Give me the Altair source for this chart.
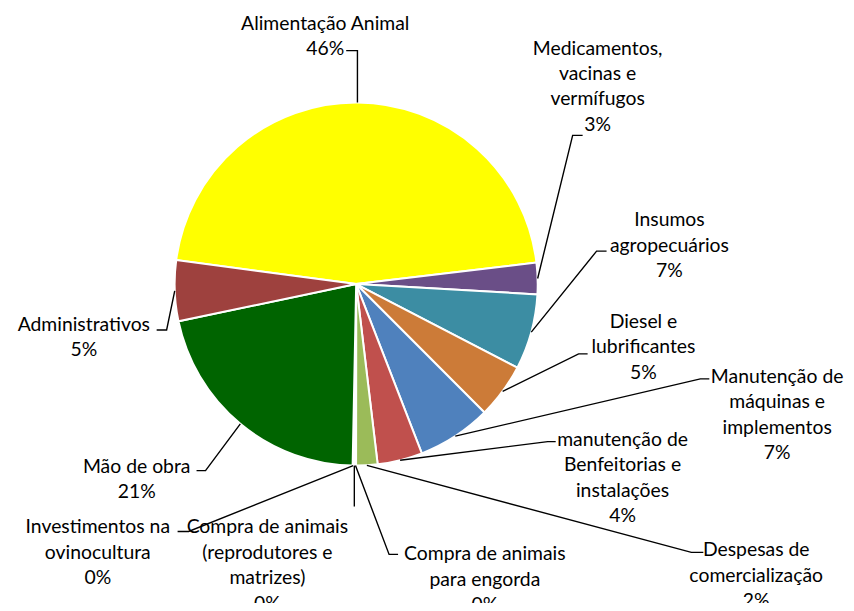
import math
import altair as alt
import pandas as pd

# ---- data ----
categories = [
    "Alimentação Animal",
    "Medicamentos, vacinas e vermífugos",
    "Insumos agropecuários",
    "Diesel e lubrificantes",
    "Manutenção de máquinas e implementos",
    "manutenção de Benfeitorias e instalações",
    "Despesas de comercialização",
    "Compra de animais para engorda",
    "Compra de animais (reprodutores e matrizes)",
    "Investimentos na ovinocultura",
    "Mão de obra",
    "Administrativos",
]
values = [46.0, 2.8, 6.7, 4.9, 6.6, 4.0, 1.9, 0.1, 0.1, 0.1, 21.4, 5.4]
pct_labels = ["46%", "3%", "7%", "5%", "7%", "4%", "2%", "0%", "0%", "0%", "21%", "5%"]
label_lines = [
    ["Alimentação Animal"],
    ["Medicamentos,", "vacinas e", "vermífugos"],
    ["Insumos", "agropecuários"],
    ["Diesel e", "lubrificantes"],
    ["Manutenção de", "máquinas e", "implementos"],
    ["manutenção de", "Benfeitorias e", "instalações"],
    ["Despesas de", "comercialização"],
    ["Compra de animais", "para engorda"],
    ["Compra de animais", "(reprodutores e", "matrizes)"],
    ["Investimentos na", "ovinocultura"],
    ["Mão de obra"],
    ["Administrativos"],
]
colors = ["#FFFF00", "#6A4E87", "#3C8DA3", "#CC7B38", "#4F81BD", "#C0504D",
          "#9BBB59", "#D89A5E", "#B08A6A", "#F2B27A", "#006400", "#9E413E"]

# ---- layout (page pixel coords) ----
M = 8
CX, CY, R = 357 - M, 284 - M, 182
START = math.radians(-82.4)
# label centre x, first baseline y
label_pos = [(326, 29), (599, 54), (671, 226), (645, 328), (779, 383), (624, 446),
             (758, 557), (486, 561), (268, 534), (98, 534), (137, 473), (84, 331)]
# leader tick: (tick end near label), (elbow)
ticks = [((347, 50), (None, 50)), ((584, 135), (574, 135)), ((608, 251), (598, 251)),
         ((589, 354), (580, 354)), ((711, 379), (702, 379)), ((557, 442), (549, 442)),
         ((705, 553), (693, 553)), ((399, 555), (390, 555)), ((None, 507), (None, 507)),
         ((178, 532), (189, 532)), ((197, 471), (206, 471)), ((157, 330), (167, 330))]

n = len(categories)
df = pd.DataFrame({"cat": categories, "value": values, "idx": list(range(n))})

total = sum(values)
cum = 0.0
lead_rows = []
text_rows = []
for i in range(n):
    a = START + 2 * math.pi * (cum + values[i] / 2) / total
    cum += values[i]
    px = CX + R * math.sin(a)
    py = CY - R * math.cos(a)
    (t1, t2) = ticks[i]
    p1 = ((t1[0] - M) if t1[0] is not None else px, t1[1] - M)
    p2 = ((t2[0] - M) if t2[0] is not None else px, t2[1] - M)
    for k, (x, y) in enumerate([p1, p2, (px, py)]):
        lead_rows.append({"id": i, "k": k, "x": x, "y": y})
    text_rows.append({"lx": label_pos[i][0] - M, "ly": label_pos[i][1] - M,
                      "txt": "\n".join(label_lines[i] + [pct_labels[i]])})

lead_df = pd.DataFrame(lead_rows)
text_df = pd.DataFrame(text_rows)

arcs = alt.Chart(df).mark_arc(outerRadius=R, stroke="white", strokeWidth=2).encode(
    theta=alt.Theta("value:Q", stack=True,
                    scale=alt.Scale(range=[START, START + 2 * math.pi])),
    color=alt.Color("cat:N", scale=alt.Scale(domain=categories, range=colors), legend=None),
    order=alt.Order("idx:Q"),
    x=alt.value(CX),
    y=alt.value(CY),
)

leaders = alt.Chart(lead_df).mark_line(color="black", strokeWidth=1.4).encode(
    x=alt.X("x:Q", scale=None),
    y=alt.Y("y:Q", scale=None),
    detail="id:N",
    order="k:Q",
)

labels = alt.Chart(text_df).mark_text(
    align="center", baseline="alphabetic", font="Lato", fontSize=19.4,
    lineHeight=25.5, lineBreak="\n", color="#000000"
).encode(
    x=alt.X("lx:Q", scale=None),
    y=alt.Y("ly:Q", scale=None),
    text="txt:N",
)

chart = alt.layer(arcs, leaders, labels).properties(
    width=840, height=595, padding=0, autosize="none", background="white"
).configure_view(stroke=None)

chart.save("out.html", embed_options={"renderer": "svg", "actions": False})
